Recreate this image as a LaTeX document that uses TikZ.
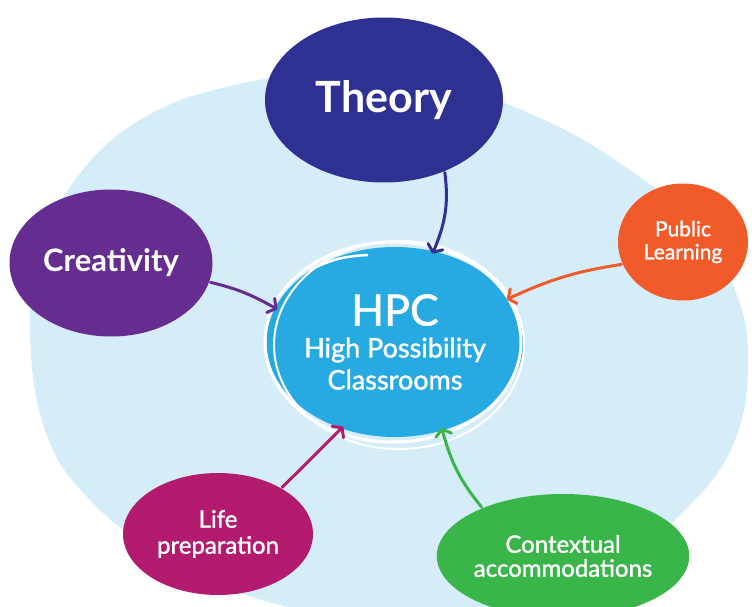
\documentclass[tikz,border=0pt]{standalone}
\usepackage{fontspec}
\setmainfont{Lato}
\newfontface\midfont{Lato}[FakeBold=1.3]
\usetikzlibrary{shapes.geometric,arrows.meta}
\definecolor{bgblue}{HTML}{D5ECF9}
\definecolor{hpcblue}{HTML}{27A9E1}
\definecolor{navy}{HTML}{2E3192}
\definecolor{grape}{HTML}{662D91}
\definecolor{tangerine}{HTML}{F15A29}
\definecolor{berry}{HTML}{B31C6E}
\definecolor{leaf}{HTML}{3AB54A}
\begin{document}
\begin{tikzpicture}
[x=1pt, y=-1pt, line width=3pt,
blob/.style={ellipse, inner sep=0pt, text=white, align=center},
link/.style={line cap=round, shorten >=-4pt, -{Straight Barb[length=6pt,width=16pt,round]}},
ring/.style={draw=white, line width=3pt}]

\useasboundingbox (0,0) rectangle (752,607);

% background
\fill[bgblue] plot[smooth cycle, tension=0.7] coordinates {
  (30,330) (45,430) (90,500) (170,560) (280,605) (400,620) (520,605)
  (620,560) (690,505) (735,440) (748,360) (735,290) (695,225) (630,170)
  (540,118) (440,85) (330,75) (230,86) (140,120) (75,180) (40,255)};

% centre
\node[blob, fill=hpcblue, minimum width=244pt, minimum height=190pt,
  font=\midfont\fontsize{27}{32}\selectfont] (hpc) at (395,342)
  {{\fontsize{43}{32}\selectfont HPC}\\High Possibility\\Classrooms};
\draw[ring] (393,342) ellipse [x radius=128pt, y radius=100pt];
\draw[ring, line width=2pt] (399,345) ellipse [x radius=125pt, y radius=104pt];
\draw[ring, line width=2.5pt] (310,270) to[bend left=12] (368,255);

% satellites
\node[blob, fill=navy, minimum width=238pt, minimum height=165pt,
  font=\fontsize{43}{43}\selectfont\bfseries] (theory) at (384,100) {Theory};
\node[blob, fill=grape, minimum width=203pt, minimum height=147pt,
  font=\fontsize{31}{31}\selectfont\bfseries] (creat) at (111,263) {Creativity};
\node[blob, fill=tangerine, minimum width=130pt, minimum height=117pt,
  font=\midfont\fontsize{21}{23}\selectfont] (public) at (683,242) {Public\\Learning};
\node[blob, fill=berry, minimum width=190pt, minimum height=122pt,
  font=\midfont\fontsize{24}{26}\selectfont] (life) at (218,534) {Life\\preparation};
\node[blob, fill=leaf, minimum width=213pt, minimum height=124pt,
  font=\midfont\fontsize{24}{24}\selectfont] (context) at (563,556) {Contextual\\accommodations};

% arrows
\draw[link, navy] (theory.-50) to[bend left=15] (hpc.67);
\draw[link, grape] (creat.-11) to[bend left=8] (hpc.164);
\draw[link, tangerine] (public.-160) to[bend right=8] (hpc.21);
\draw[link, berry] (life.36) to (hpc.-122);
\draw[link, leaf] (context.149) to[bend left=12] (hpc.-62);
\end{tikzpicture}
\end{document}
